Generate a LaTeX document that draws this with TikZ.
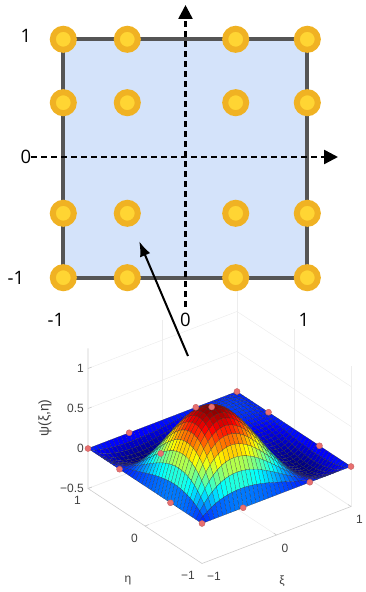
\documentclass[tikz,border=0pt]{standalone}
\usepackage{fontspec}
\setmainfont{Open Sans}
\newfontfamily\plotfont{Liberation Sans}
\usepackage{pgfplots}
\pgfplotsset{compat=1.18}
\usetikzlibrary{arrows.meta,backgrounds}

\definecolor{gllring}{RGB}{240,178,35}
\definecolor{gllcore}{RGB}{255,213,51}
\definecolor{elemfill}{RGB}{212,227,250}
\definecolor{elemedge}{RGB}{85,85,85}
\definecolor{tickgray}{RGB}{64,64,64}
\definecolor{nodered}{RGB}{232,112,112}

\tikzset{
  gllnode/.style={circle, inner sep=0pt, minimum size=21pt, line width=6pt, draw=gllring, fill=gllcore},
  refaxis/.style={line width=2.5pt, dash pattern=on 6pt off 4pt, -{Triangle[length=14pt,width=14pt]}},
  reflabel/.style={font=\fontsize{18.5}{20}\selectfont, inner sep=0pt},
  ticklabel/.style={font=\plotfont\fontsize{12}{13}\selectfont, text=tickgray, inner sep=0pt},
  boxline/.style={draw=gray!40, line width=0.6pt},
  gridline/.style={draw=gray!14, line width=0.5pt},
  pointer/.style={line width=2pt, -{Latex[length=15pt,width=11pt]}, shorten >=17pt},
}

\begin{document}
\begin{tikzpicture}[x=1pt, y=1pt]
  \useasboundingbox (0,0) rectangle (365,592);

  % reference element, 4x4 GLL nodes
  \foreach \i/\x in {1/63.3, 2/127.3, 3/235.7, 4/307.3}
    \foreach \j/\y in {1/314.3, 2/378.7, 3/489.3, 4/552.7}
      \node[gllnode] (n\i\j) at (\x,\y) {};
  \begin{scope}[on background layer]
    \draw[fill=elemfill, draw=elemedge, line width=4pt] (n11.center) rectangle (n44.center);
  \end{scope}

  \node[reflabel] (yp1) at (26,556) {1};
  \node[reflabel] (y0) at (26,435) {0};
  \node[reflabel] (ym1) at (16,314) {-1};
  \node[reflabel] (xm1) at (56,272) {-1};
  \node[reflabel] (x0) at (185.5,272) {0};
  \node[reflabel] (xp1) at (304,272) {1};

  \coordinate (xtip) at (338,435);
  \coordinate (ytip) at (185.5,587);
  \draw[refaxis] (y0.east) -- (y0.east -| xtip);
  \draw[refaxis] ([yshift=6pt]x0.north) -- (x0.north |- ytip);

  % shape function of node (-a,-a)
  \coordinate (psiorigin) at (219.5,134.5);
  \begin{axis}[at={(psiorigin)}, anchor=origin, disabledatascaling,
      x={(74.5pt,28.5pt)}, y={(-57pt,37.5pt)}, z={(0pt,80pt)},
      xmin=-1, xmax=1, ymin=-1, ymax=1, zmin=-0.5, zmax=1.25,
      hide axis, clip=false, colormap/jet,
      declare function={lagr(\t)=(\t+1)*(\t-0.447214)*(\t-1)/0.715542;}]
    \pgfplotsinvokeforeach{-0.5,0,0.5,1}{
      \draw[gridline] (-1,1,#1) -- (1,1,#1) -- (1,-1,#1);
    }
    \pgfplotsinvokeforeach{0,1}{
      \draw[gridline] (#1,1,-0.5) -- (#1,1,1.25);
      \draw[gridline] (1,#1-1,-0.5) -- (1,#1-1,1.25);
      \draw[gridline] (#1,-1,-0.5) -- (#1,1,-0.5);
      \draw[gridline] (-1,#1,-0.5) -- (1,#1,-0.5);
    }
    \draw[boxline] (-1,1,1.25) -- (-1,1,-0.5) -- (-1,-1,-0.5) -- (1,-1,-0.5);
    \pgfplotsinvokeforeach{-0.5,0,0.5,1}{
      \draw[boxline] (-1,1,#1) -- (-0.95,1,#1);
    }
    \pgfplotsinvokeforeach{0,1}{
      \draw[boxline] (#1,-1,-0.5) -- (#1,-0.95,-0.5);
      \draw[boxline] (-1,#1,-0.5) -- (-0.95,#1,-0.5);
    }

    \addplot3[surf, shader=faceted, faceted color=black!80, line width=0.12pt,
      samples=37, domain=-1:1, y domain=-1:1] {lagr(x)*lagr(y)};
    \addplot3[only marks, mark=*, mark size=3pt,
      mark options={fill=nodered, draw=nodered!85!black}] coordinates {
      (-1,-1,0) (1,-1,0) (1,1,0) (-1,1,0)
      (-1,-0.447,0) (-1,0.447,0) (-0.447,-1,0) (0.447,-1,0)
      (1,-0.447,0) (1,0.447,0) (-0.447,1,0) (0.447,1,0)
      (-0.447,0.447,0) (-0.447,-0.447,1)};

    \node[ticklabel, anchor=east, xshift=-4pt] (zt1) at (-1,1,1) {1};
    \node[ticklabel, anchor=east, xshift=-4pt] (zt05) at (-1,1,0.5) {0.5};
    \node[ticklabel, anchor=east, xshift=-4pt] (zt0) at (-1,1,0) {0};
    \node[ticklabel, anchor=east, xshift=-4pt] (ztm05) at (-1,1,-0.5) {−0.5};
    \node[ticklabel, anchor=north east, xshift=-7pt, yshift=-8pt] (etat1) at (-1,1,-0.5) {1};
    \node[ticklabel, anchor=north east, xshift=-7pt, yshift=-8pt] (etat0) at (-1,0,-0.5) {0};
    \node[ticklabel, anchor=north east, xshift=-7pt, yshift=-8pt] (etatm1) at (-1,-1,-0.5) {−1};
    \node[ticklabel, anchor=north west, xshift=5pt, yshift=-9pt] (xitm1) at (-1,-1,-0.5) {−1};
    \node[ticklabel, anchor=north west, xshift=5pt, yshift=-9pt] (xit0) at (0,-1,-0.5) {0};
    \node[ticklabel, anchor=north west, xshift=5pt, yshift=-9pt] (xit1) at (1,-1,-0.5) {1};
  \end{axis}

  \node[ticklabel, font=\plotfont\fontsize{14}{15}\selectfont, rotate=90] (psilabel) at (45,174) {ψ(ξ,η)};
  \node[ticklabel] (etalabel) at (128,11) {η};
  \node[ticklabel] (xilabel) at (282,11) {ξ};

  \coordinate (psitail) at (188,236);
  \draw[pointer] (psitail) -- (n22);
\end{tikzpicture}
\end{document}
